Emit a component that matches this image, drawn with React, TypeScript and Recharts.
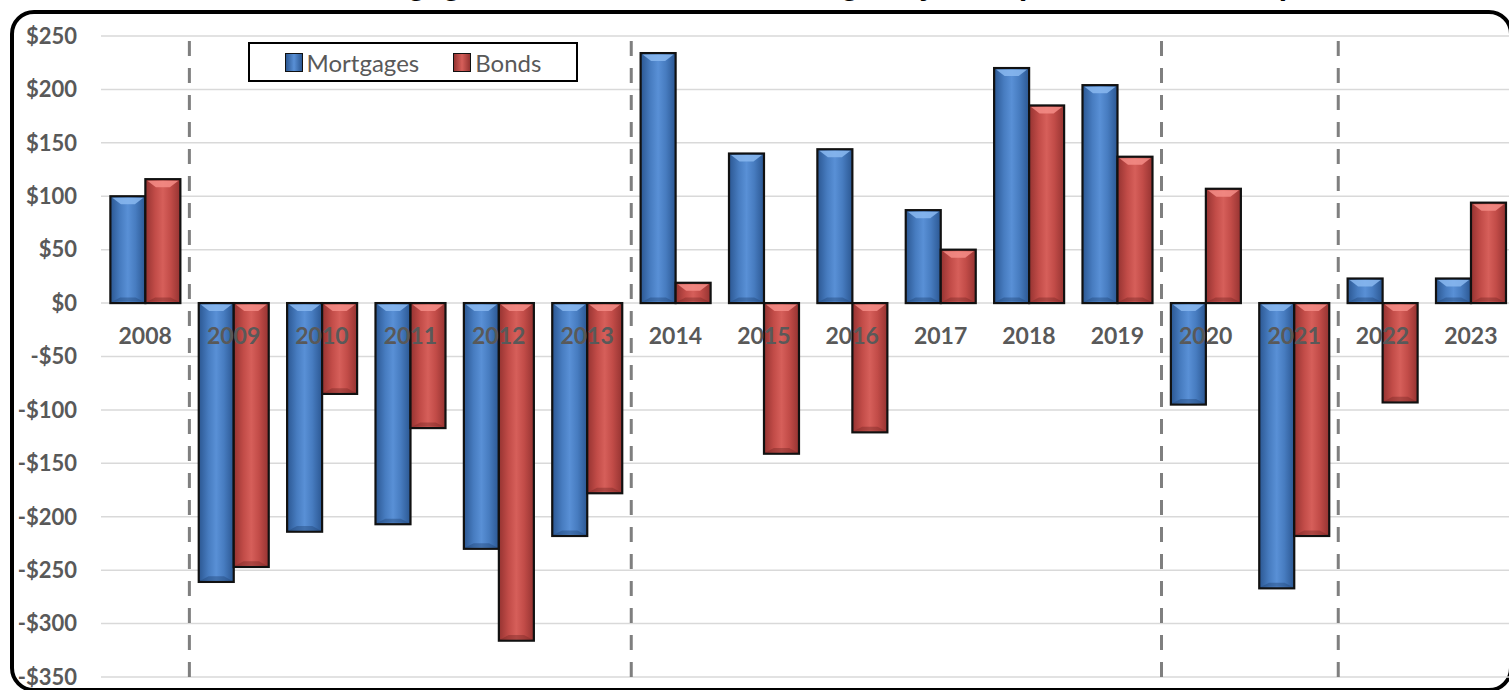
import React from 'react';
import {
  BarChart,
  Bar,
  XAxis,
  YAxis,
  CartesianGrid,
  ReferenceLine,
  ReferenceDot,
  Legend
} from 'recharts';

// Net change per year, $ billions
const years = ['2008', '2009', '2010', '2011', '2012', '2013', '2014', '2015', '2016', '2017', '2018', '2019', '2020', '2021', '2022', '2023'];
const mortgages = [100, -261, -214, -207, -230, -218, 234, 140, 144, 87, 220, 204, -95, -267, 23, 23];
const bonds = [116, -247, -85, -117, -316, -178, 19, -141, -121, 50, 185, 137, 107, -218, -93, 94];

// first year of each new period (dashed dividers)
const periodStarts = ['2009', '2014', '2020', '2022'];

const yTicks = [250, 200, 150, 100, 50, 0, -50, -100, -150, -200, -250, -300, -350];

const data = years.map((year, i) => ({ year, mortgages: mortgages[i], bonds: bonds[i] }));

const FONT = 'Lato, "Open Sans", sans-serif';
const LABEL_GREY = '#595959';

const palette: Record<string, { edge: string; mid: string; center: string; light: string; dark: string }> = {
  mortgages: { edge: '#2b5792', mid: '#477cc0', center: '#5990d6', light: '#8ab9f0', dark: '#244a7c' },
  bonds: { edge: '#953331', mid: '#c24c48', center: '#d65f5a', light: '#f48d87', dark: '#7c2a28' }
};

const formatDollars = (v: number) => (v < 0 ? `-$${Math.abs(v)}` : `$${v}`);

// bevelled bar: cylinder-ish horizontal gradient, light top facet, dark bottom facet
const makeBevelBar = (key: string) => (props: any) => {
  const { x, y, width, height } = props;
  if (!width || !height) return null;
  const top = Math.min(y, y + height);
  const h = Math.abs(height);
  const bottom = top + h;
  const c = palette[key];
  const facet = Math.min(8, h / 2);
  return (
    <g>
      <rect x={x} y={top} width={width} height={h} fill={`url(#grad-${key})`} stroke="#111" strokeWidth={2.2} />
      <polygon
        points={`${x + 2},${top + 1.5} ${x + width - 2},${top + 1.5} ${x + width * 0.7},${top + facet} ${x + width * 0.3},${top + facet}`}
        fill={c.light}
        opacity={0.85}
      />
      <polygon
        points={`${x + 2},${bottom - 1.5} ${x + width - 2},${bottom - 1.5} ${x + width * 0.72},${bottom - facet * 0.7} ${x + width * 0.28},${bottom - facet * 0.7}`}
        fill={c.dark}
        opacity={0.45}
      />
    </g>
  );
};

const legendItems = [
  { key: 'mortgages', label: 'Mortgages' },
  { key: 'bonds', label: 'Bonds' }
];

const LegendBox = () => (
  <div
    style={{
      boxSizing: 'border-box',
      width: 330,
      height: 40,
      border: '2px solid #000',
      background: '#fff',
      display: 'flex',
      alignItems: 'center',
      justifyContent: 'center',
      gap: 34,
      fontFamily: FONT,
      fontSize: 24,
      color: LABEL_GREY
    }}
  >
    {legendItems.map((item) => {
      const c = palette[item.key];
      return (
        <div key={item.key} style={{ display: 'flex', alignItems: 'center', gap: 4 }}>
          <span
            style={{
              display: 'inline-block',
              width: 16,
              height: 17,
              border: '1px solid #111',
              background: `linear-gradient(90deg, ${c.edge}, ${c.center} 50%, ${c.edge})`
            }}
          />
          <span>{item.label}</span>
        </div>
      );
    })}
  </div>
);

export default function App() {
  return (
    <div style={{ position: 'absolute', left: 0, top: 0, width: 1509, height: 690, overflow: 'hidden', background: '#fff' }}>
      <div
        style={{
          position: 'absolute',
          top: -30,
          left: 0,
          width: 1523,
          textAlign: 'center',
          fontFamily: '"Liberation Sans", Arial, sans-serif',
          fontWeight: 700,
          fontSize: 30,
          lineHeight: '30px',
          color: '#000',
          whiteSpace: 'nowrap'
        }}
      >
        Annual Mortgage and Bond Net Flow Changes by Year (Billions of Dollars)
      </div>
      <div
        style={{
          position: 'absolute',
          left: 10,
          top: 10,
          width: 1503,
          height: 682,
          boxSizing: 'border-box',
          border: '4px solid #000',
          borderRadius: 24
        }}
      />
      <div style={{ position: 'absolute', left: 0, top: 0 }}>
        <BarChart
          width={1530}
          height={690}
          data={data}
          margin={{ top: 36, right: 15, left: 21, bottom: 13 }}
          barCategoryGap="10.6%"
          barGap={0}
        >
          <defs>
            {Object.keys(palette).map((key) => (
              <linearGradient key={key} id={`grad-${key}`} x1="0" y1="0" x2="1" y2="0">
                <stop offset="0%" stopColor={palette[key].edge} />
                <stop offset="28%" stopColor={palette[key].mid} />
                <stop offset="50%" stopColor={palette[key].center} />
                <stop offset="72%" stopColor={palette[key].mid} />
                <stop offset="100%" stopColor={palette[key].edge} />
              </linearGradient>
            ))}
          </defs>
          <CartesianGrid vertical={false} stroke="#d9d9d9" strokeWidth={1.5} />
          <XAxis dataKey="year" hide />
          <YAxis
            width={80}
            domain={[-350, 250]}
            ticks={yTicks}
            interval={0}
            tickFormatter={formatDollars}
            axisLine={false}
            tickLine={false}
            tickSize={0}
            tickMargin={24}
            tick={{ fill: LABEL_GREY, fontSize: 22, fontWeight: 700, fontFamily: FONT }}
          />
          <Bar dataKey="mortgages" name="Mortgages" fill={palette.mortgages.mid} shape={makeBevelBar('mortgages')} isAnimationActive={false} />
          <Bar dataKey="bonds" name="Bonds" fill={palette.bonds.mid} shape={makeBevelBar('bonds')} isAnimationActive={false} />
          {periodStarts.map((year) => (
            <ReferenceLine
              key={year}
              x={year}
              position="start"
              stroke="#7f7f7f"
              strokeWidth={3}
              strokeDasharray="15 12"
            />
          ))}
          {years.map((year) => (
            <ReferenceDot
              key={year}
              x={year}
              y={0}
              r={0}
              fill="none"
              stroke="none"
              label={{
                value: year,
                position: 'bottom',
                offset: 25,
                fill: LABEL_GREY,
                fontSize: 23,
                fontWeight: 700,
                fontFamily: FONT
              }}
            />
          ))}
          <Legend
            layout="horizontal"
            verticalAlign="middle"
            align="center"
            wrapperStyle={{ position: 'absolute', left: 248, top: 42, width: 330, height: 40 }}
            content={() => <LegendBox />}
          />
        </BarChart>
      </div>
    </div>
  );
}
